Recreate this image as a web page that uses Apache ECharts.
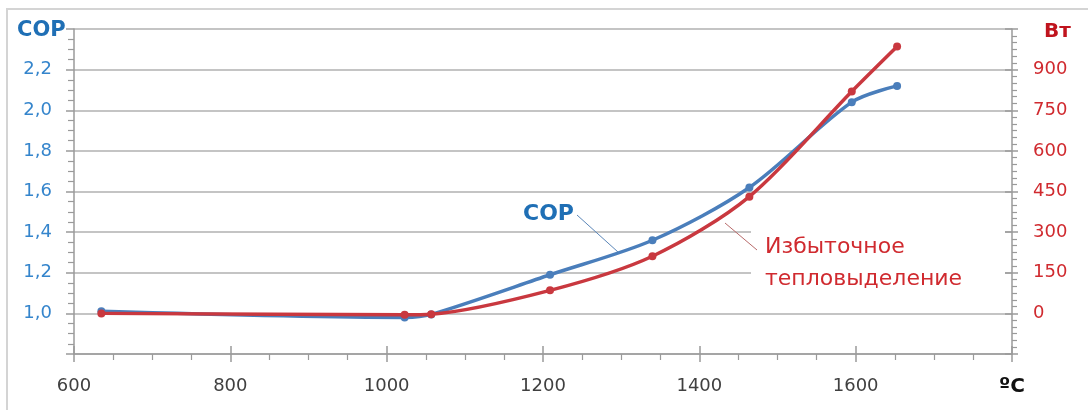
<!DOCTYPE html>
<html>
<head>
<meta charset="utf-8">
<script src="https://cdn.jsdelivr.net/npm/echarts@6/dist/echarts.min.js"></script>
<style>
html,body{margin:0;padding:0;background:#fff;}
#chart{width:1088px;height:410px;}
</style>
</head>
<body>
<div id="chart"></div>
<script>
// Data
const temps = [635, 1023, 1057, 1209, 1340, 1464, 1595, 1653];   // ºC
const cop   = [1.01, 0.98, 0.995, 1.19, 1.36, 1.62, 2.04, 2.12]; // COP (left axis)
const heat  = [0, -5, -3, 85, 211, 431, 819, 985];               // Вт (right axis)

const xTicks = [600, 800, 1000, 1200, 1400, 1600];
const copLabels = ['1,0', '1,2', '1,4', '1,6', '1,8', '2,0', '2,2'];
const wLabels = [0, 150, 300, 450, 600, 750, 900];

const FONT = 'DejaVu Sans';
const AXIS_GRAY = '#9a9a9a';
const GRID_GRAY = '#b0b0b0';
const BLUE = '#4a7ebb';
const RED = '#c9383f';
const BLUE_TXT = '#3585cc';
const RED_TXT = '#d02a2f';

const chart = echarts.init(document.getElementById('chart'), null, {renderer: 'canvas'});

function near(v, arr) { return arr.some(a => Math.abs(a - v) < 1e-6); }

const option = {
  animation: false,
  backgroundColor: '#fff',
  grid: {left: 74, right: 76, top: 29, bottom: 56, containLabel: false},
  xAxis: [
    {
      type: 'value', min: 600, max: 1800, interval: 200, position: 'bottom',
      axisLine: {show: true, onZero: false, lineStyle: {color: AXIS_GRAY, width: 1.5}},
      axisTick: {show: true, inside: false, length: 8, lineStyle: {color: AXIS_GRAY, width: 1.5}},
      minorTick: {show: true, splitNumber: 4, length: 6, lineStyle: {color: AXIS_GRAY, width: 1.2}},
      splitLine: {show: false},
      axisLabel: {
        margin: 23, fontSize: 18, fontFamily: FONT, color: '#404040',
        formatter: v => near(v, xTicks) ? String(v) : (v === 1800 ? '{u|ºC}' : ''),
        rich: {u: {fontSize: 20, fontWeight: 'bold', color: '#111', fontFamily: FONT}}
      }
    },
    {
      type: 'value', min: 600, max: 1800, interval: 200, position: 'bottom',
      axisLine: {show: false, onZero: false},
      axisTick: {show: true, inside: true, length: 8, lineStyle: {color: AXIS_GRAY, width: 1.5}},
      axisLabel: {show: false}, splitLine: {show: false}
    }
  ],
  yAxis: [
    {
      type: 'value', min: 0.8, max: 2.4, interval: 0.2, position: 'left',
      axisLine: {show: true, onZero: false, lineStyle: {color: AXIS_GRAY, width: 1.5}},
      axisTick: {show: true, inside: false, length: 8, lineStyle: {color: AXIS_GRAY, width: 1.5}},
      minorTick: {show: true, splitNumber: 4, length: 6, lineStyle: {color: AXIS_GRAY, width: 1.2}},
      splitLine: {show: true, lineStyle: {color: GRID_GRAY, width: 1.5}},
      axisLabel: {
        margin: 22, fontSize: 18, fontFamily: FONT, color: BLUE_TXT,
        formatter: v => {
          const s = v.toFixed(1).replace('.', ',');
          return copLabels.indexOf(s) >= 0 ? s : '';
        }
      }
    },
    {
      type: 'value', min: -150, max: 1050, interval: 150, position: 'right',
      axisLine: {show: true, onZero: false, lineStyle: {color: AXIS_GRAY, width: 1.5}},
      axisTick: {show: true, inside: false, length: 6, lineStyle: {color: AXIS_GRAY, width: 1.5}},
      minorTick: {show: true, splitNumber: 6, length: 5, lineStyle: {color: AXIS_GRAY, width: 1.2}},
      splitLine: {show: false},
      axisLabel: {
        margin: 21, fontSize: 18, fontFamily: FONT, color: RED_TXT,
        formatter: v => near(v, wLabels) ? String(Math.round(v)) : ''
      }
    },
    {
      type: 'value', min: -150, max: 1050, interval: 150, position: 'right',
      axisLine: {show: false, onZero: false},
      axisTick: {show: true, inside: true, length: 7, lineStyle: {color: AXIS_GRAY, width: 1.5}},
      axisLabel: {show: false}, splitLine: {show: false}
    }
  ],
  series: [
    {
      name: 'COP', type: 'line', xAxisIndex: 0, yAxisIndex: 0,
      data: temps.map((t, i) => [t, cop[i]]),
      smooth: 0.3,
      symbol: 'circle', symbolSize: 8,
      lineStyle: {color: BLUE, width: 3.5},
      itemStyle: {color: BLUE},
      z: 3
    },
    {
      name: 'Избыточное тепловыделение', type: 'line', xAxisIndex: 0, yAxisIndex: 1,
      data: temps.map((t, i) => [t, heat[i]]),
      smooth: 0.3,
      symbol: 'circle', symbolSize: 8,
      lineStyle: {color: RED, width: 3.5},
      itemStyle: {color: RED},
      z: 4
    }
  ],
  graphic: [
    {type: 'rect', shape: {x: 7, y: 9, width: 1120, height: 440}, style: {fill: 'none', stroke: '#d4d4d4', lineWidth: 2}, z: 0, silent: true},
    {type: 'text', left: 17, top: 20, style: {text: 'COP', font: 'bold 21px "DejaVu Sans"', fill: '#1f6fb5'}, z: 10},
    {type: 'text', left: 1044, top: 22, style: {text: 'Вт', font: 'bold 20px "DejaVu Sans"', fill: '#c0141e'}, z: 10},
    {type: 'text', left: 523, top: 203, style: {text: 'COP', font: 'bold 22px "DejaVu Sans"', fill: '#1f6fb5'}, z: 10},
    {type: 'line', shape: {x1: 577, y1: 215, x2: 618, y2: 252}, style: {stroke: '#5b86b8', lineWidth: 1}, z: 10},
    {type: 'rect', shape: {x: 751, y: 222, width: 254, height: 74}, style: {fill: '#fff'}, z: 5, silent: true},
    {type: 'line', shape: {x1: 725, y1: 223, x2: 757, y2: 250}, style: {stroke: '#b86a6a', lineWidth: 1}, z: 10},
    {type: 'text', left: 765, top: 231, style: {text: 'Избыточное\nтепловыделение', font: '22px "DejaVu Sans"', fill: RED_TXT, lineHeight: 32}, z: 10}
  ]
};

chart.setOption(option);
</script>
</body>
</html>
